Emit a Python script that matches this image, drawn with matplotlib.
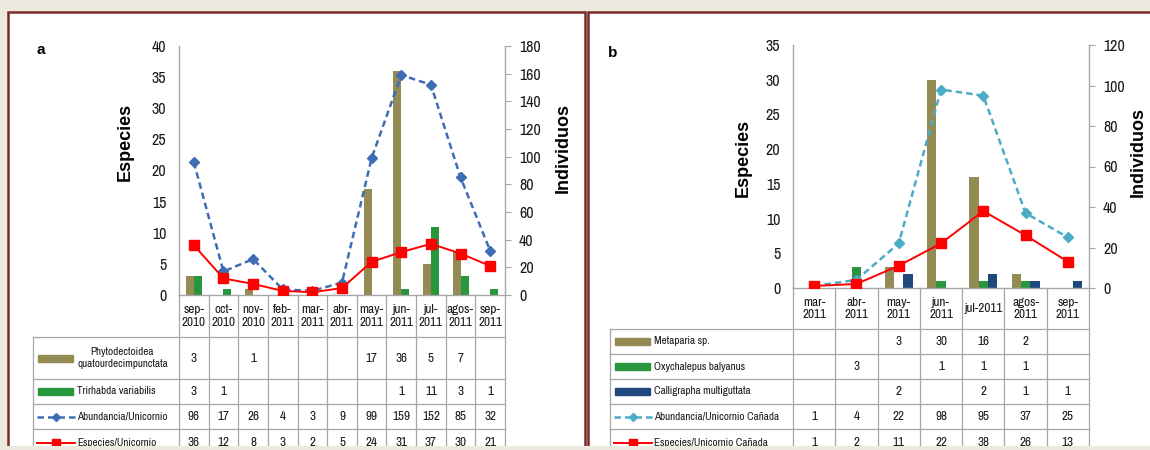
import numpy as np
import matplotlib.pyplot as plt
from matplotlib.patches import Rectangle
from matplotlib.lines import Line2D

plt.rcParams['font.family'] = ['Archivo Narrow', 'DejaVu Sans']

W, H = 1150, 450
NaN = np.nan

# Datos del panel a (Unicornio)
meses_a = ['sep-\n2010', 'oct-\n2010', 'nov-\n2010', 'feb-\n2011', 'mar-\n2011', 'abr-\n2011',
           'may-\n2011', 'jun-\n2011', 'jul-\n2011', 'agos-\n2011', 'sep-\n2011']
phyto = [3, NaN, 1, NaN, NaN, NaN, 17, 36, 5, 7, NaN]
trirhabda = [3, 1, NaN, NaN, NaN, NaN, NaN, 1, 11, 3, 1]
abund_a = [96, 17, 26, 4, 3, 9, 99, 159, 152, 85, 32]
especies_a = [36, 12, 8, 3, 2, 5, 24, 31, 37, 30, 21]

# Datos del panel b (Unicornio Cañada)
meses_b = ['mar-\n2011', 'abr-\n2011', 'may-\n2011', 'jun-\n2011', 'jul-2011', 'agos-\n2011', 'sep-\n2011']
metaparia = [NaN, NaN, 3, 30, 16, 2, NaN]
oxychalepus = [NaN, 3, NaN, 1, 1, 1, NaN]
calligrapha = [NaN, NaN, 2, NaN, 2, 1, 1]
abund_b = [1, 4, 22, 98, 95, 37, 25]
especies_b = [1, 2, 11, 22, 38, 26, 13]

OLIVA = '#948A54'
VERDE = '#27963C'
AZUL_OSC = '#1F497D'
ROJO = '#FF0000'
GRIS = '#A6A6A6'
BORDE = '#7B2B2B'
TEXTO = '#1a1a1a'


def caja(x0, y0, x1, y1):
    return [x0 / W, 1 - y1 / H, (x1 - x0) / W, (y1 - y0) / H]


fig = plt.figure(figsize=(W / 100, H / 100), dpi=100)
fig.patch.set_facecolor('#ECE9DF')
fondo = fig.add_axes([0, 0, 1, 1], zorder=0)
fondo.set_xlim(0, W)
fondo.set_ylim(H, 0)
fondo.axis('off')

# Marcos de los dos paneles
for x0, x1 in [(8, 585), (588, 1165)]:
    fondo.add_patch(Rectangle((x0, 12), x1 - x0, 434, facecolor='white', edgecolor='none'))
    fondo.plot([x0, x0, x1, x1], [446, 12, 12, 446], color=BORDE, lw=1.8, solid_joinstyle='miter')


def panel(x0, x1, ytop, y0, meses, barras, lineas, lims, pasos, filas, xlab, letra, pos_etq):
    n = len(meses)
    ax = fig.add_axes(caja(x0, ytop, x1, y0), zorder=2)
    ax.patch.set_alpha(0)
    ax2 = ax.twinx()
    x = np.arange(n) + 0.5

    # barras por especie
    nb = len(barras)
    ancho = 0.27 if nb == 2 else 0.22
    for k, (nombre, vals, color) in enumerate(barras):
        ax.bar(x + (k - (nb - 1) / 2) * ancho, vals, width=ancho, color=color, zorder=2)

    for nombre, vals, estilo in lineas:
        ax2.plot(x, vals, **estilo, zorder=3)

    ax.set_xlim(0, n)
    ax.set_ylim(0, lims[0])
    ax2.set_ylim(0, lims[1])
    ax.set_yticks(np.arange(0, lims[0] + 1, pasos[0]))
    ax2.set_yticks(np.arange(0, lims[1] + 1, pasos[1]))
    ax.set_xticks([])
    ax.spines['top'].set_visible(False)
    ax2.spines['top'].set_visible(False)
    ax.spines['right'].set_visible(False)
    ax2.spines['left'].set_visible(False)
    ax2.spines['bottom'].set_visible(False)
    for sp in [ax.spines['left'], ax.spines['bottom'], ax2.spines['right']]:
        sp.set_color(GRIS)
        sp.set_linewidth(1)
    ax.tick_params(axis='y', length=0, pad=9, labelsize=11.5, labelcolor=TEXTO)
    ax2.tick_params(axis='y', length=4, color=GRIS, pad=6, labelsize=11.5, labelcolor=TEXTO)

    # etiquetas de ejes y letra del panel
    (ex, ey), (ix, iy) = pos_etq
    fondo.text(ex, ey, 'Especies', rotation=90, ha='center', va='center', fontsize=13,
               fontweight='bold', family=['Liberation Sans', 'DejaVu Sans'])
    fondo.text(ix, iy, 'Individuos', rotation=90, ha='center', va='center', fontsize=13,
               fontweight='bold', family=['Liberation Sans', 'DejaVu Sans'])
    fondo.text(letra[1], letra[2], letra[0], ha='center', va='center', fontsize=11,
               fontweight='bold', family=['Liberation Sans', 'DejaVu Sans'])

    # tabla de datos bajo el eje
    cw = (x1 - x0) / n
    yfin = filas[-1]
    for i in range(n + 1):
        fondo.plot([x0 + i * cw] * 2, [y0, yfin], color=GRIS, lw=0.9)
    fondo.plot([xlab, xlab], [filas[1], yfin], color=GRIS, lw=0.9)
    for yy in filas[1:-1]:
        fondo.plot([xlab, x1], [yy, yy], color=GRIS, lw=0.9)
    for i, m in enumerate(meses):
        fondo.text(x0 + (i + 0.5) * cw, (filas[0] + filas[1]) / 2, m, ha='center', va='center',
                   fontsize=9.5, linespacing=1.2, color=TEXTO)

    series = [(nom, vals, ('bar', c)) for nom, vals, c in barras] + \
             [(nom, vals, ('line', est)) for nom, vals, est in lineas]
    for r, (nom, vals, tipo) in enumerate(series):
        yc = (filas[r + 1] + filas[r + 2]) / 2
        if tipo[0] == 'bar':
            fondo.add_patch(Rectangle((xlab + 5, yc - 3.5), 35, 7, color=tipo[1]))
        else:
            est = tipo[1]
            fondo.add_line(Line2D([xlab + 4, xlab + 42], [yc, yc], color=est['color'],
                                  ls=est['ls'], lw=est['lw']))
            fondo.plot([xlab + 23], [yc], marker=est['marker'], color=est['color'],
                       ms=est['ms'] * 0.8)
        fondo.text(xlab + 44, yc, nom, ha='left', va='center', fontsize=8,
                   multialignment='center', color=TEXTO, linespacing=1.35)
        for i, v in enumerate(vals):
            if not np.isnan(v):
                fondo.text(x0 + (i + 0.5) * cw, yc, str(int(v)), ha='center', va='center',
                           fontsize=9.5, color=TEXTO)
    return ax, ax2


estilo_abund_a = dict(color='#3F6DB3', ls=(0, (2.6, 1.6)), lw=1.8, marker='D', ms=5)
estilo_abund_b = dict(color='#4BACC6', ls=(0, (2.6, 1.6)), lw=1.8, marker='D', ms=5)
estilo_esp = dict(color=ROJO, ls='-', lw=1.4, marker='s', ms=6.5)

panel(179, 505, 46, 295, meses_a,
      [('Phytodectoidea\nquatourdecimpunctata', phyto, OLIVA),
       ('Trirhabda variabilis', trirhabda, VERDE)],
      [('Abundancia/Unicornio', abund_a, estilo_abund_a),
       ('Especies/Unicornio', especies_a, estilo_esp)],
      (40, 180), (5, 20), [295, 337, 379, 404, 429, 456], 33, ('a', 41, 50),
      ((125, 142), (563, 148)))

panel(793, 1089, 45, 288, meses_b,
      [('Metaparia sp.', metaparia, OLIVA),
       ('Oxychalepus balyanus', oxychalepus, VERDE),
       ('Calligrapha multiguttata', calligrapha, AZUL_OSC)],
      [('Abundancia/Unicornio Cañada', abund_b, estilo_abund_b),
       ('Especies/Unicornio Cañada', especies_b, estilo_esp)],
      (35, 120), (5, 20), [288, 329, 354, 379, 404, 429, 456], 610, ('b', 613, 53),
      ((743, 158), (1138, 152)))

# franja inferior
fondo.add_patch(Rectangle((0, 446), W, 4, facecolor='#ECE9DF', edgecolor='none', zorder=5))

fig.savefig('out.png', dpi=100, facecolor=fig.get_facecolor())
